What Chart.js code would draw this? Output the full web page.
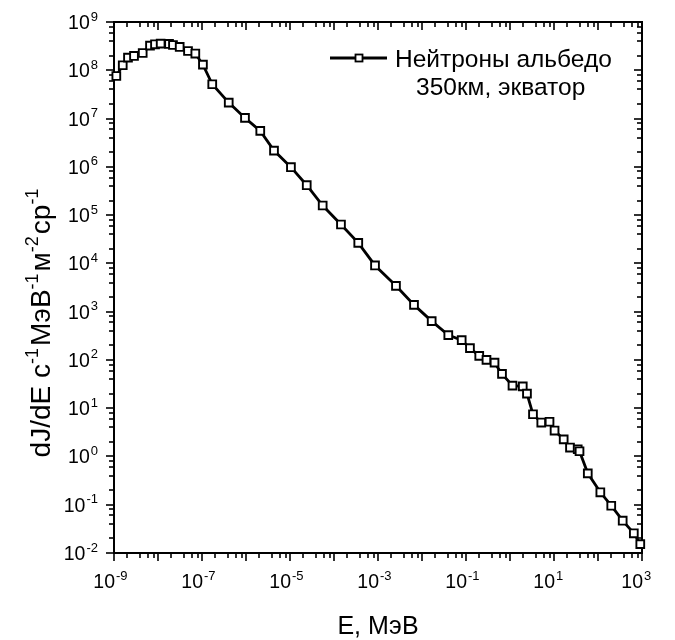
<!DOCTYPE html>
<html>
<head>
<meta charset="utf-8">
<script src="https://cdn.jsdelivr.net/npm/chart.js@4/dist/chart.umd.min.js"></script>
<style>
  html, body { margin: 0; padding: 0; background: #fff; }
  #wrap { width: 675px; height: 640px; }
</style>
</head>
<body>
<div id="wrap"><canvas id="c" width="675" height="640"></canvas></div>
<script>
// Albedo neutron spectrum at 350 km over the equator
const energyMeV = [1.13e-9, 1.58e-9, 2.08e-9, 2.85e-9, 4.49e-9, 6.58e-9, 8.55e-9, 1.15e-8,
  1.78e-8, 2.19e-8, 3.11e-8, 4.81e-8, 7.05e-8, 1.05e-7, 1.71e-7, 4.05e-7, 9.48e-7, 2.11e-6,
  4.33e-6, 1.05e-5, 2.40e-5, 5.53e-5, 1.44e-4, 3.56e-4, 8.55e-4, 2.56e-3, 6.58e-3, 1.66e-2,
  3.96e-2, 7.98e-2, 0.123, 0.200, 0.292, 0.445, 0.658, 1.14, 1.95, 2.43, 3.33, 5.14, 7.91,
  10.3, 16.6, 23.1, 34.6, 38.0, 58.6, 113, 200, 364, 652, 914];
const fluxValues = [7.62e7, 1.27e8, 1.83e8, 1.98e8, 2.28e8, 3.24e8, 3.45e8, 3.57e8,
  3.51e8, 3.34e8, 3.04e8, 2.51e8, 2.22e8, 1.31e8, 5.13e7, 2.14e7, 1.03e7, 5.54e6,
  2.17e6, 9.82e5, 4.16e5, 1.58e5, 6.38e4, 2.66e4, 9.05e3, 3.42e3, 1.38e3, 636,
  326, 257, 175, 121, 100, 87.9, 51.3, 29.4, 28.3, 20.0, 7.48, 5.04, 5.23,
  3.44, 2.26, 1.53, 1.41, 1.28, 0.447, 0.181, 0.0953, 0.0467, 0.0256, 0.0153];

const seriesLabel = ['Нейтроны альбедо', '350км, экватор'];
const xTitle = 'E, МэВ';
// y title pieces: [text, isSuperscript]
const yTitleParts = [['dJ/dE с', false], ['-1', true], ['МэВ', false], ['-1', true],
  ['м', false], ['-2', true], ['ср', false], ['-1', true]];

// decade exponents of both axes and which of them carry labels
const xExpRange = [-9, 3];
const yExpRange = [-2, 9];
const xLabelExps = [-9, -7, -5, -3, -1, 1, 3];
const yLabelExps = [-2, -1, 0, 1, 2, 3, 4, 5, 6, 7, 8, 9];
const minorMultipliers = [2, 4, 6, 8];

const FONT = '"Liberation Sans", Arial, sans-serif';

function line(ctx, x1, y1, x2, y2) {
  ctx.beginPath(); ctx.moveTo(x1, y1); ctx.lineTo(x2, y2); ctx.stroke();
}

// "10" with a raised exponent
function powerLabel(ctx, exp, x, y, align) {
  const base = '10', sup = String(exp);
  ctx.font = '19.5px ' + FONT;
  const wb = ctx.measureText(base).width;
  ctx.font = '13px ' + FONT;
  const ws = ctx.measureText(sup).width;
  const gap = 1;
  const start = align === 'right' ? x - (wb + gap + ws) : x - wb + 1;
  ctx.textAlign = 'left';
  ctx.textBaseline = 'alphabetic';
  ctx.font = '19.5px ' + FONT;
  ctx.fillText(base, start, y);
  ctx.font = '13px ' + FONT;
  ctx.fillText(sup, start + wb + gap, y - 8.5);
}

const axesFrame = {
  id: 'axesFrame',
  beforeDatasetsDraw(chart) {
    const { ctx, chartArea: a, scales: { x, y } } = chart;
    ctx.save();
    ctx.strokeStyle = '#000';
    ctx.lineWidth = 1.6;
    ctx.lineCap = 'butt';
    const MAJ = 8, MIN = 5;
    for (let e = xExpRange[0]; e <= xExpRange[1]; e++) {
      const mults = e === xExpRange[1] ? [1] : [1].concat(minorMultipliers);
      for (const m of mults) {
        const px = Math.round(x.getPixelForValue(m * Math.pow(10, e)));
        const len = m === 1 ? MAJ : MIN;
        line(ctx, px, a.bottom, px, a.bottom + len);
        line(ctx, px, a.top, px, a.top + len);
      }
    }
    for (let e = yExpRange[0]; e <= yExpRange[1]; e++) {
      const mults = e === yExpRange[1] ? [1] : [1].concat(minorMultipliers);
      for (const m of mults) {
        const py = Math.round(y.getPixelForValue(m * Math.pow(10, e)));
        const len = m === 1 ? MAJ : MIN;
        line(ctx, a.left - len, py, a.left, py);
        line(ctx, a.right - len, py, a.right, py);
      }
    }
    ctx.lineWidth = 2;
    ctx.strokeRect(a.left, a.top, a.right - a.left, a.bottom - a.top);
    ctx.restore();
  },
  afterDraw(chart) {
    const { ctx, chartArea: a, scales: { x, y } } = chart;
    ctx.save();
    ctx.fillStyle = '#000';
    for (const e of xLabelExps) {
      const px = x.getPixelForValue(Math.pow(10, e));
      powerLabel(ctx, e, px, a.bottom + 35, 'center');
    }
    for (const e of yLabelExps) {
      const py = y.getPixelForValue(Math.pow(10, e));
      powerLabel(ctx, e, a.left - 16, py + 7, 'right');
    }
    // x title
    ctx.font = '25px ' + FONT;
    ctx.textAlign = 'center';
    ctx.textBaseline = 'alphabetic';
    ctx.fillText(xTitle, (a.left + a.right) / 2, 634);
    // y title, rotated
    ctx.save();
    ctx.translate(50, 322);
    ctx.rotate(-Math.PI / 2);
    ctx.textAlign = 'left';
    const big = '28px ', small = '18px ';
    let total = 0;
    const widths = yTitleParts.map(([t, s]) => {
      ctx.font = (s ? small : big) + FONT;
      const w = ctx.measureText(t).width + (s ? 2 : 0);
      total += w; return w;
    });
    let cx = -total / 2;
    yTitleParts.forEach(([t, s], i) => {
      ctx.font = (s ? small : big) + FONT;
      ctx.fillText(t, cx, s ? -12 : 0);
      cx += widths[i];
    });
    ctx.restore();
    // legend
    const ds = chart.data.datasets[0];
    ctx.strokeStyle = ds.borderColor;
    ctx.lineWidth = ds.borderWidth;
    line(ctx, 330, 58, 387, 58);
    ctx.fillStyle = '#fff';
    ctx.lineWidth = 1.8;
    ctx.fillRect(355.5, 54.5, 7, 7);
    ctx.strokeRect(355.5, 54.5, 7, 7);
    ctx.fillStyle = '#000';
    ctx.font = '24.5px ' + FONT;
    ctx.textAlign = 'left';
    ctx.fillText(seriesLabel[0], 395, 67);
    ctx.fillText(seriesLabel[1], 416, 95);
    ctx.restore();
  }
};

new Chart(document.getElementById('c'), {
  type: 'scatter',
  data: {
    datasets: [{
      label: seriesLabel.join(' '),
      data: energyMeV.map((e, i) => ({ x: e, y: fluxValues[i] })),
      showLine: true,
      borderColor: '#000',
      borderWidth: 2.8,
      pointStyle: 'rect',
      pointRadius: 5.5,
      pointBorderWidth: 1.9,
      pointBackgroundColor: '#fff',
      pointBorderColor: '#000',
      clip: false,
      tension: 0
    }]
  },
  options: {
    responsive: false,
    animation: false,
    devicePixelRatio: 1,
    layout: { padding: { left: 114, top: 22, right: 33, bottom: 87 } },
    plugins: { legend: { display: false }, tooltip: { enabled: false } },
    scales: {
      x: { type: 'logarithmic', min: 1e-9, max: 1e3, display: false },
      y: { type: 'logarithmic', min: 1e-2, max: 1e9, display: false }
    }
  },
  plugins: [axesFrame]
});
</script>
</body>
</html>
